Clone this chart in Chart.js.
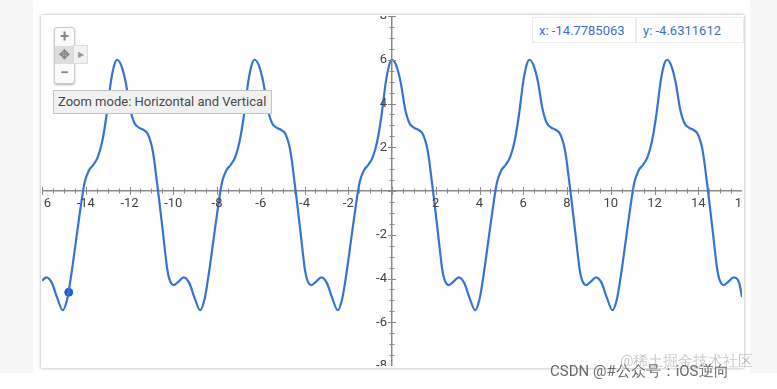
<!DOCTYPE html>
<html>
<head>
<meta charset="utf-8">
<script src="https://cdn.jsdelivr.net/npm/chart.js@4.4.1/dist/chart.umd.min.js"></script>
<style>
    html, body { margin: 0; padding: 0; background: #fff; }
    body { width: 777px; height: 389px; position: relative; overflow: hidden; font-family: Roboto, "Noto Sans", sans-serif; }
    .strip { position: absolute; top: 0; height: 373px; background: #f7f7f7; }
    #frame { position: absolute; left: 41px; top: 15px; width: 703px; height: 353px; background: #fff;
        box-shadow: 0 0 3px rgba(0, 0, 0, 0.35); }
    #wrap { position: absolute; left: 42px; top: 16px; width: 700px; height: 350px; }
    .zoomctl { position: absolute; left: 54px; top: 27px; width: 19px; height: 55px; background: #fafafa;
        border: 1px solid #ccc; border-radius: 3px; box-shadow: 0 1px 2px rgba(0, 0, 0, 0.3); }
    .zoomctl div { height: 18px; line-height: 17px; text-align: center; color: #888; font-size: 16px; font-weight: bold; }
    .zoomctl .mid { background: #ddd; font-size: 13px; }
    .tab { position: absolute; left: 73px; top: 45px; width: 13px; height: 17px; background: #f2f2f2;
        border: 1px solid #ddd; color: #999; font-size: 8px; line-height: 17px; text-align: center; }
    .tip { position: absolute; left: 53px; top: 90px; width: 213px; height: 22px; background: #f1f1f1;
        border: 1px solid #c4c4c4; color: #4a4a4a; font-size: 13px; line-height: 22px; padding-left: 4px; box-sizing: content-box; }
    .info { position: absolute; top: 17px; height: 26px; line-height: 26px; background: #fff; border: 1px solid #ececec;
        color: #3d6ec9; font-size: 13px; padding-left: 6px; box-sizing: border-box; }
    .mark { position: absolute; white-space: nowrap; font-size: 15px; }
</style>
</head>
<body>
<div class="strip" style="left:0;width:33px"></div>
<div class="strip" style="left:750px;width:27px"></div>
<div id="frame"></div>
<div id="wrap"><canvas id="plot"></canvas></div>
<div class="zoomctl"><div>+</div><div class="mid">&#10021;</div><div>&minus;</div></div>
<div class="tab">&#9654;</div>
<div class="tip">Zoom mode: Horizontal and Vertical</div>
<div class="info" style="left:532px;width:104px">x: -14.7785063</div>
<div class="info" style="left:636px;width:108px">y: -4.6311612</div>
<div class="mark" style="left:620px;top:352px;color:rgba(0,0,0,0.22)">@稀土掘金技术社区</div>
<div class="mark" style="left:550px;top:362px;color:#6a6a6a">CSDN @#公众号：iOS逆向</div>

<script>
// curve samples
const xValues = [
    -16.00, -15.80, -15.55, -15.30, -15.05, -14.85, -14.65, -14.45, -14.25, -14.05,
    -13.85, -13.65, -13.45, -13.25, -13.05, -12.85, -12.70,
    -12.57, -12.37, -12.17, -11.97, -11.77, -11.57, -11.37, -11.17, -10.97, -10.87,
    -10.77, -10.67, -10.57, -10.47, -10.37, -10.27, -10.17, -9.97, -9.77, -9.52,
    -9.27, -9.02, -8.77, -8.57, -8.37, -8.17, -7.97, -7.77, -7.57, -7.37,
    -7.17, -6.97, -6.77, -6.57, -6.42,
    -6.28, -6.08, -5.88, -5.68, -5.48, -5.28, -5.08, -4.88, -4.68, -4.58,
    -4.48, -4.38, -4.28, -4.18, -4.08, -3.98, -3.88, -3.68, -3.48, -3.23,
    -2.98, -2.73, -2.48, -2.28, -2.08, -1.88, -1.68, -1.48, -1.28, -1.08,
    -0.88, -0.68, -0.48, -0.28, -0.13,
    0.00, 0.20, 0.40, 0.60, 0.80, 1.00, 1.20, 1.40, 1.60, 1.70,
    1.80, 1.90, 2.00, 2.10, 2.20, 2.30, 2.40, 2.60, 2.80, 3.05,
    3.30, 3.55, 3.80, 4.00, 4.20, 4.40, 4.60, 4.80, 5.00, 5.20,
    5.40, 5.60, 5.80, 6.00, 6.15,
    6.28, 6.48, 6.68, 6.88, 7.08, 7.28, 7.48, 7.68, 7.88, 7.98,
    8.08, 8.18, 8.28, 8.38, 8.48, 8.58, 8.68, 8.88, 9.08, 9.33,
    9.58, 9.83, 10.08, 10.28, 10.48, 10.68, 10.88, 11.08, 11.28, 11.48,
    11.68, 11.88, 12.08, 12.28, 12.43,
    12.57, 12.77, 12.97, 13.17, 13.37, 13.57, 13.77, 13.97, 14.17, 14.27,
    14.37, 14.47, 14.57, 14.67, 14.77, 14.87, 14.97, 15.17, 15.37, 15.62,
    15.87, 16.00
];
const yValues = [
    -4.10, -3.95, -4.20, -4.90, -5.45, -4.95, -3.75, -2.30, -0.85, 0.40,
    0.95, 1.20, 1.55, 2.25, 3.45, 5.00, 5.75,
    6.00, 5.72, 4.95, 3.75, 3.10, 2.90, 2.80, 2.62, 2.00, 1.40,
    0.60, -0.20, -1.05, -1.90, -2.80, -3.60, -4.05, -4.30, -4.15, -3.95,
    -4.20, -4.90, -5.45, -4.95, -3.75, -2.30, -0.85, 0.40, 0.95, 1.20,
    1.55, 2.25, 3.45, 5.00, 5.75,
    6.00, 5.72, 4.95, 3.75, 3.10, 2.90, 2.80, 2.62, 2.00, 1.40,
    0.60, -0.20, -1.05, -1.90, -2.80, -3.60, -4.05, -4.30, -4.15, -3.95,
    -4.20, -4.90, -5.45, -4.95, -3.75, -2.30, -0.85, 0.40, 0.95, 1.20,
    1.55, 2.25, 3.45, 5.00, 5.75,
    6.00, 5.72, 4.95, 3.75, 3.10, 2.90, 2.80, 2.62, 2.00, 1.40,
    0.60, -0.20, -1.05, -1.90, -2.80, -3.60, -4.05, -4.30, -4.15, -3.95,
    -4.20, -4.90, -5.45, -4.95, -3.75, -2.30, -0.85, 0.40, 0.95, 1.20,
    1.55, 2.25, 3.45, 5.00, 5.75,
    6.00, 5.72, 4.95, 3.75, 3.10, 2.90, 2.80, 2.62, 2.00, 1.40,
    0.60, -0.20, -1.05, -1.90, -2.80, -3.60, -4.05, -4.30, -4.15, -3.95,
    -4.20, -4.90, -5.45, -4.95, -3.75, -2.30, -0.85, 0.40, 0.95, 1.20,
    1.55, 2.25, 3.45, 5.00, 5.75,
    6.00, 5.72, 4.95, 3.75, 3.10, 2.90, 2.80, 2.62, 2.00, 1.40,
    0.60, -0.20, -1.05, -1.90, -2.80, -3.60, -4.05, -4.30, -4.15, -3.95,
    -4.20, -4.85
];
const markedPoint = { x: -14.7785063, y: -4.6311612 };
const xRange = [-16, 16];
const yRange = [-8, 8];
const labelStep = 2;
const minorStep = 0.5;

const axisColor = '#8a8a8a';
const labelColor = '#444';

const points = xValues.map((x, i) => ({ x, y: yValues[i] }));

function isMajor(v) {
    return Math.abs(v % labelStep) < 1e-9;
}

// tick marks across both axes plus their labels, placed with the chart's scales
const crossTicks = {
    id: 'crossTicks',
    afterDatasetsDraw(chart) {
        const { ctx, scales: { x, y } } = chart;
        const x0 = x.getPixelForValue(0);
        const y0 = y.getPixelForValue(0);
        ctx.save();
        ctx.strokeStyle = axisColor;
        ctx.lineWidth = 1;
        ctx.beginPath();
        x.ticks.forEach(t => {
            const px = Math.round(x.getPixelForValue(t.value)) + 0.5;
            const len = isMajor(t.value) ? 4 : 2.5;
            ctx.moveTo(px, y0 - len);
            ctx.lineTo(px, y0 + len);
        });
        y.ticks.forEach(t => {
            const py = Math.round(y.getPixelForValue(t.value)) + 0.5;
            const len = isMajor(t.value) ? 4 : 2.5;
            ctx.moveTo(x0 - len, py);
            ctx.lineTo(x0 + len, py);
        });
        ctx.stroke();

        ctx.fillStyle = labelColor;
        ctx.font = '13px Roboto';
        ctx.textBaseline = 'middle';
        ctx.textAlign = 'center';
        x.ticks.forEach(t => {
            if (t.value === 0 || !isMajor(t.value)) return;
            ctx.fillText(String(t.value), x.getPixelForValue(t.value), y0 + 13);
        });
        ctx.textAlign = 'right';
        y.ticks.forEach(t => {
            if (t.value === 0 || !isMajor(t.value)) return;
            ctx.fillText(String(t.value), x0 - 5, y.getPixelForValue(t.value));
        });
        ctx.restore();
    }
};

new Chart(document.getElementById('plot'), {
    type: 'scatter',
    data: {
        datasets: [
            {
                data: points,
                showLine: true,
                borderColor: '#3574d4',
                borderWidth: 2.2,
                pointRadius: 0,
                cubicInterpolationMode: 'monotone',
                fill: false
            },
            {
                data: [markedPoint],
                pointRadius: 4,
                pointBackgroundColor: '#1c60cf',
                pointBorderColor: '#1c60cf',
                showLine: false
            }
        ]
    },
    options: {
        responsive: true,
        maintainAspectRatio: false,
        animation: false,
        layout: { padding: 0, autoPadding: false },
        plugins: {
            legend: { display: false },
            tooltip: { enabled: false }
        },
        scales: {
            x: {
                type: 'linear',
                min: xRange[0],
                max: xRange[1],
                position: { y: 0 },
                grid: { display: false, drawTicks: false },
                border: { display: true, color: axisColor, width: 1.5 },
                ticks: { display: false, stepSize: minorStep, autoSkip: false, maxTicksLimit: 200 }
            },
            y: {
                type: 'linear',
                min: yRange[0],
                max: yRange[1],
                position: { x: 0 },
                grid: { display: false, drawTicks: false },
                border: { display: true, color: axisColor, width: 1.5 },
                ticks: { display: false, stepSize: minorStep, autoSkip: false, maxTicksLimit: 200 }
            }
        }
    },
    plugins: [crossTicks]
});
</script>
</body>
</html>
